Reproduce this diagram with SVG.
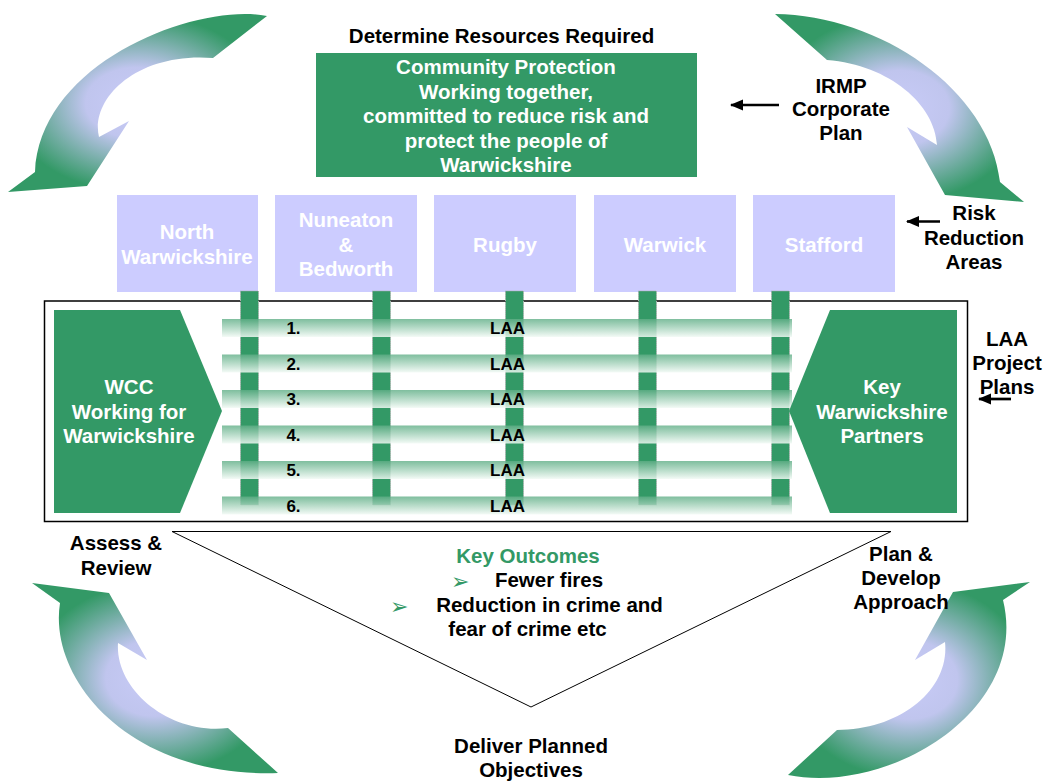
<svg xmlns="http://www.w3.org/2000/svg" width="1047" height="784" viewBox="0 0 1047 784">
<defs>
<radialGradient id="arrowGrad">
<stop offset="0" stop-color="#c8cbf7"/>
<stop offset="0.4" stop-color="#c0c5ee"/>
<stop offset="1" stop-color="#339966"/>
</radialGradient>
<linearGradient id="barGrad" x1="0" y1="0" x2="0" y2="1">
<stop offset="0" stop-color="#5fae86" stop-opacity="0.8"/>
<stop offset="1" stop-color="#f2faf5" stop-opacity="0.85"/>
</linearGradient>
<marker id="ah" markerUnits="userSpaceOnUse" markerWidth="14" markerHeight="12" refX="12" refY="6" orient="auto">
<path d="M13,6 L0,0.5 L0,11.5 Z" fill="#000"/>
</marker>
</defs>
<style>
text{font-family:"Liberation Sans",Arial,sans-serif;font-weight:bold;text-anchor:middle}
.lbl{font-size:20.5px;fill:#000}
.wt{font-size:20.5px;fill:#fff}
.lav{fill:#ccccff}
.grn{fill:#339966}
.vbar{fill:#339966;stroke:#aaaaaa;stroke-width:1;stroke-dasharray:1 1}
.hbar{fill:url(#barGrad)}
.laa{font-size:17px;fill:#000}
.big{fill:url(#arrowGrad)}
.conn{stroke:#000;stroke-width:2.7;fill:none}
.bul{font-size:22px;fill:#339966;text-anchor:start;font-weight:normal;font-family:"DejaVu Sans",sans-serif}
</style>

<g id="cycle-arrows">
<path class="big" d="M267,16 C200,2 40,60 35,172 L8,192 L87,186 L129,121 L99,137 C90,100 135,52 213,58 Z"/>
<path class="big" d="M775,14 C880,15 990,90 1000,182 L1024,202 L945,195 L907,127 L937,145 C935,105 890,65 827,60 Z"/>
<path class="big" d="M32,583 L60,603 C48,680 130,778 278,773 L228,728 C170,735 115,690 118,643 L147,660 L109,593 Z"/>
<path class="big" d="M1030,582 L953,592 L915,660 L945,642 C950,690 900,730 837,730 L788,775 C890,795 1030,710 1003,600 Z"/>
</g>

<g id="title">
<text class="lbl" x="501.5" y="43">Determine Resources Required</text>
</g>

<g id="community-protection">
<rect class="grn" x="316" y="53" width="381" height="124"/>
<text class="wt" x="506" y="74">Community Protection</text>
<text class="wt" x="506" y="98.5">Working together,</text>
<text class="wt" x="506" y="123">committed to reduce risk and</text>
<text class="wt" x="506" y="147.5">protect the people of</text>
<text class="wt" x="506" y="172">Warwickshire</text>
</g>

<g id="irmp-label">
<text class="lbl" x="841" y="92.5">IRMP</text>
<text class="lbl" x="841" y="116">Corporate</text>
<text class="lbl" x="841" y="139.5">Plan</text>
</g>

<g id="risk-label">
<text class="lbl" x="974" y="220">Risk</text>
<text class="lbl" x="974" y="245">Reduction</text>
<text class="lbl" x="974" y="269">Areas</text>
</g>

<g id="laa-label">
<text class="lbl" x="1007" y="346">LAA</text>
<text class="lbl" x="1007" y="370">Project</text>
<text class="lbl" x="1007" y="394">Plans</text>
</g>

<g id="frame">
<rect x="44.5" y="301" width="923" height="220.5" fill="none" stroke="#000" stroke-width="1.5"/>
</g>

<g id="area-north-warwickshire">
<rect class="lav" x="117" y="195" width="141" height="97"/>
<text class="wt" x="187" y="239">North</text>
<text class="wt" x="187" y="264">Warwickshire</text>
</g>
<g id="area-nuneaton-bedworth">
<rect class="lav" x="275" y="195" width="142" height="97"/>
<text class="wt" x="346" y="227">Nuneaton</text>
<text class="wt" x="346" y="251.5">&amp;</text>
<text class="wt" x="346" y="276">Bedworth</text>
</g>
<g id="area-rugby">
<rect class="lav" x="434" y="195" width="142" height="97"/>
<text class="wt" x="505" y="252">Rugby</text>
</g>
<g id="area-warwick">
<rect class="lav" x="594" y="195" width="142" height="97"/>
<text class="wt" x="665" y="252">Warwick</text>
</g>
<g id="area-stafford">
<rect class="lav" x="753" y="195" width="142" height="97"/>
<text class="wt" x="824" y="252">Stafford</text>
</g>

<g id="area-columns">
<rect class="vbar" x="240.5" y="291" width="18" height="214"/>
<rect class="vbar" x="372.5" y="291" width="18" height="214"/>
<rect class="vbar" x="505.5" y="291" width="18" height="214"/>
<rect class="vbar" x="638.5" y="291" width="18" height="214"/>
<rect class="vbar" x="771.5" y="291" width="18" height="214"/>
</g>

<g id="laa-rows">
<rect class="hbar" x="222" y="319" width="570" height="18"/>
<rect class="hbar" x="222" y="354.5" width="570" height="18"/>
<rect class="hbar" x="222" y="390" width="570" height="18"/>
<rect class="hbar" x="222" y="425.5" width="570" height="18"/>
<rect class="hbar" x="222" y="461" width="570" height="18"/>
<rect class="hbar" x="222" y="496.5" width="570" height="18"/>
<text class="laa" x="293.5" y="334">1.</text><text class="laa" x="507.5" y="334">LAA</text>
<text class="laa" x="293.5" y="369.5">2.</text><text class="laa" x="507.5" y="369.5">LAA</text>
<text class="laa" x="293.5" y="405">3.</text><text class="laa" x="507.5" y="405">LAA</text>
<text class="laa" x="293.5" y="440.5">4.</text><text class="laa" x="507.5" y="440.5">LAA</text>
<text class="laa" x="293.5" y="476">5.</text><text class="laa" x="507.5" y="476">LAA</text>
<text class="laa" x="293.5" y="511.5">6.</text><text class="laa" x="507.5" y="511.5">LAA</text>
</g>

<g id="wcc">
<polygon class="grn" points="54,310 180,310 222,411 180,513 54,513"/>
<text class="wt" x="129" y="394">WCC</text>
<text class="wt" x="129" y="419">Working for</text>
<text class="wt" x="129" y="443">Warwickshire</text>
</g>

<g id="key-partners">
<polygon class="grn" points="830,310 957,310 957,513 830,513 789,411"/>
<text class="wt" x="882" y="394">Key</text>
<text class="wt" x="882" y="419">Warwickshire</text>
<text class="wt" x="882" y="443">Partners</text>
</g>

<g id="outcomes">
<polygon points="172,531.5 891,531.5 531,707" fill="none" stroke="#000" stroke-width="1"/>
<text x="528" y="563" style="font-size:20.5px;fill:#339966">Key Outcomes</text>
<text class="bul" x="451" y="589">➢</text>
<text class="lbl" x="549" y="587">Fewer fires</text>
<text class="bul" x="390" y="614">➢</text>
<text class="lbl" x="549.5" y="612">Reduction in crime and</text>
<text class="lbl" x="527.5" y="635.5">fear of crime etc</text>
</g>

<g id="assess-review">
<text class="lbl" x="116" y="549.5">Assess &amp;</text>
<text class="lbl" x="116" y="574.5">Review</text>
</g>
<g id="plan-develop">
<text class="lbl" x="901" y="561">Plan &amp;</text>
<text class="lbl" x="901" y="585">Develop</text>
<text class="lbl" x="901" y="609">Approach</text>
</g>
<g id="deliver">
<text class="lbl" x="531" y="753">Deliver Planned</text>
<text class="lbl" x="531" y="777">Objectives</text>
</g>

<g id="connectors">
<line class="conn" x1="779" y1="105" x2="731" y2="105" marker-end="url(#ah)"/>
<line class="conn" x1="940" y1="221.5" x2="907" y2="221.5" marker-end="url(#ah)"/>
<line class="conn" x1="1011" y1="399" x2="979" y2="399" marker-end="url(#ah)"/>
</g>
</svg>
